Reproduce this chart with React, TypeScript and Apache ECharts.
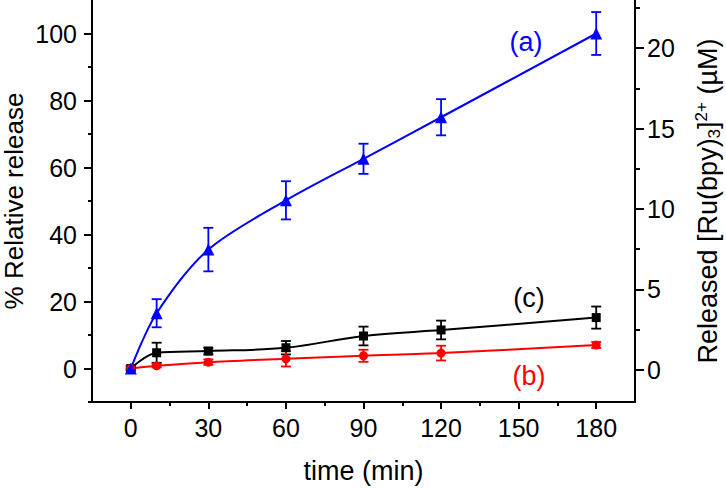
import React, { useEffect, useRef } from "react";
import * as echarts from "echarts";

const time = [0, 10, 30, 60, 90, 120, 180];
const relA = [0, 16.5, 35.5, 50.2, 62.6, 75.0, 100.0];
const errA = [0, 4.2, 6.5, 5.7, 4.5, 5.4, 6.4];
const relB = [0, 0.8, 1.9, 2.9, 3.8, 4.6, 7.0];
const errB = [0.8, 0.5, 0.8, 2.3, 1.8, 2.2, 0.9];
const relC = [0, 4.7, 5.2, 6.2, 9.7, 11.5, 15.2];
const errC = [0.5, 3.0, 1.0, 2.0, 2.8, 2.8, 3.3];

const xMajor = [0, 30, 60, 90, 120, 150, 180];
const xMinor = [15, 45, 75, 105, 135, 165];
const yLeftMajor = [0, 20, 40, 60, 80, 100];
const yLeftMinor = [-10, 10, 30, 50, 70, 90];
const yRightMajor = [0, 5, 10, 15, 20];
const yRightMinor = [2.5, 7.5, 12.5, 17.5, 22.5];

const FONT = "Liberation Sans, Arial, sans-serif";
const BLUE = "#0000ff";
const RED = "#ff0000";
const BLACK = "#000000";

function errSeries(values: number[], errs: number[], color: string) {
  return {
    type: "custom",
    xAxisIndex: 0,
    yAxisIndex: 0,
    data: time.map((t, i) => [t, values[i], errs[i]]),
    encode: { x: 0, y: 1 },
    z: 3,
    renderItem: (params: any, api: any) => {
      const x = api.value(0);
      const y = api.value(1);
      const e = api.value(2);
      const top = api.coord([x, y + e]);
      const bot = api.coord([x, y - e]);
      const w = 5;
      const style = { stroke: color, lineWidth: 1.8, fill: "none" };
      return {
        type: "group",
        children: [
          { type: "line", shape: { x1: top[0], y1: top[1], x2: bot[0], y2: bot[1] }, style },
          { type: "line", shape: { x1: top[0] - w, y1: top[1], x2: top[0] + w, y2: top[1] }, style },
          { type: "line", shape: { x1: bot[0] - w, y1: bot[1], x2: bot[0] + w, y2: bot[1] }, style },
        ],
      };
    },
  };
}

function lineSeries(values: number[], color: string, symbol: string, size: number, smooth: number) {
  return {
    type: "line",
    xAxisIndex: 0,
    yAxisIndex: 0,
    data: time.map((t, i) => [t, values[i]]),
    smooth,
    symbol,
    symbolSize: size,
    showAllSymbol: true,
    z: 4,
    lineStyle: { color, width: 2 },
    itemStyle: { color, borderWidth: 0 },
  };
}

const axisLine = { show: true, onZero: false, lineStyle: { color: BLACK, width: 2 } };
const hiddenLine = { show: false, onZero: false };
const tickLabel = { fontFamily: FONT, fontSize: 25, color: BLACK };

export default function App() {
  const ref = useRef<HTMLDivElement>(null);
  useEffect(() => {
    document.body.style.margin = "0";
    const chart = echarts.init(ref.current!, null, { renderer: "svg" });
    chart.setOption({
      animation: false,
      backgroundColor: "#ffffff",
      grid: { left: 92, right: 91, top: 0, bottom: 86, containLabel: false, outerBoundsMode: "none" },
      xAxis: [
        {
          type: "value",
          min: -15,
          max: 195,
          position: "bottom",
          axisLine,
          axisTick: { show: true, length: 7, customValues: xMajor, lineStyle: { color: BLACK, width: 2 } },
          axisLabel: { ...tickLabel, margin: 13, customValues: xMajor },
          splitLine: { show: false },
          name: "time (min)",
          nameLocation: "middle",
          nameGap: 55,
          nameTextStyle: { fontFamily: FONT, fontSize: 27, color: BLACK },
        },
        {
          type: "value",
          min: -15,
          max: 195,
          position: "bottom",
          axisLine: hiddenLine,
          axisTick: { show: true, length: 4, customValues: xMinor, lineStyle: { color: BLACK, width: 2 } },
          axisLabel: { show: false },
          splitLine: { show: false },
        },
      ],
      yAxis: [
        {
          type: "value",
          min: -10,
          max: 110,
          position: "left",
          axisLine,
          axisTick: { show: true, length: 8, customValues: yLeftMajor, lineStyle: { color: BLACK, width: 2 } },
          axisLabel: { ...tickLabel, margin: 15, customValues: yLeftMajor },
          splitLine: { show: false },
          name: "% Relative release",
          nameLocation: "middle",
          nameRotate: 90,
          nameGap: 66,
          nameMoveOverlap: false,
          nameTextStyle: { fontFamily: FONT, fontSize: 26, lineHeight: 24, color: BLACK },
        },
        {
          type: "value",
          min: -2,
          max: 23,
          position: "right",
          axisLine,
          axisTick: { show: true, length: 9, customValues: yRightMajor, lineStyle: { color: BLACK, width: 2 } },
          axisLabel: { ...tickLabel, margin: 12, customValues: yRightMajor },
          splitLine: { show: false },
          name: "{n|Released [Ru(bpy)}{sub|3}{n|]}{sup|2+}{n| (µM)}",
          nameLocation: "middle",
          nameRotate: 90,
          nameGap: 58,
          nameTextStyle: {
            fontFamily: FONT,
            fontSize: 27,
            color: BLACK,
            rich: {
              n: { fontFamily: FONT, fontSize: 27, color: BLACK, lineHeight: 30 },
              sub: { fontFamily: FONT, fontSize: 17, color: BLACK, lineHeight: 15, verticalAlign: "bottom" },
              sup: { fontFamily: FONT, fontSize: 17, color: BLACK, lineHeight: 15, verticalAlign: "top" },
            },
          },
        },
        {
          type: "value",
          min: -10,
          max: 110,
          position: "left",
          axisLine: hiddenLine,
          axisTick: { show: true, length: 4, customValues: yLeftMinor, lineStyle: { color: BLACK, width: 2 } },
          axisLabel: { show: false },
          splitLine: { show: false },
        },
        {
          type: "value",
          min: -2,
          max: 23,
          position: "right",
          axisLine: hiddenLine,
          axisTick: { show: true, length: 5, customValues: yRightMinor, lineStyle: { color: BLACK, width: 2 } },
          axisLabel: { show: false },
          splitLine: { show: false },
        },
      ],
      graphic: [
        { type: "text", x: 526, y: 42, style: { text: "(a)", fill: BLUE, font: `27px ${FONT}`, textAlign: "center", textVerticalAlign: "middle" } },
        { type: "text", x: 529, y: 298, style: { text: "(c)", fill: BLACK, font: `27px ${FONT}`, textAlign: "center", textVerticalAlign: "middle" } },
        { type: "text", x: 529, y: 376, style: { text: "(b)", fill: RED, font: `27px ${FONT}`, textAlign: "center", textVerticalAlign: "middle" } },
      ],
      series: [
        errSeries(relC, errC, BLACK),
        lineSeries(relC, BLACK, "rect", 9, 0.35),
        errSeries(relB, errB, RED),
        lineSeries(relB, RED, "circle", 9, 0.3),
        errSeries(relA, errA, BLUE),
        lineSeries(relA, BLUE, "triangle", 12, 0.3),
      ],
    });
    return () => chart.dispose();
  }, []);
  return <div ref={ref} style={{ position: "fixed", left: 0, top: 0, width: 726, height: 488 }} />;
}
